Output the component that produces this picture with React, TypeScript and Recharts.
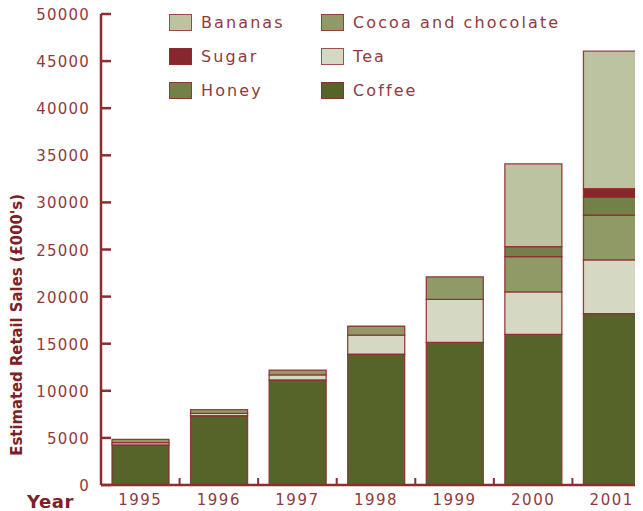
import React from "react";
import { BarChart, Bar, XAxis, YAxis } from "recharts";

const years = ["1995", "1996", "1997", "1998", "1999", "2000", "2001"];
const coffee = [4250, 7350, 11150, 13900, 15150, 16000, 18200];
const tea = [250, 250, 550, 2000, 4550, 4500, 5700];
const cocoa = [350, 400, 500, 950, 2400, 3750, 4750];
const honey = [0, 0, 0, 0, 0, 1050, 1900];
const sugar = [0, 0, 0, 0, 0, 0, 900];
const bananas = [0, 0, 0, 0, 0, 8800, 14600];
const yTicks = [0, 5000, 10000, 15000, 20000, 25000, 30000, 35000, 40000, 45000, 50000];

const data = years.map((year, i) => ({
  year,
  coffee: coffee[i],
  tea: tea[i],
  cocoa: cocoa[i],
  honey: honey[i],
  sugar: sugar[i],
  bananas: bananas[i],
}));

const series = [
  { key: "coffee", name: "Coffee", color: "#56642a" },
  { key: "tea", name: "Tea", color: "#d5d9c3" },
  { key: "cocoa", name: "Cocoa and chocolate", color: "#8f9a67" },
  { key: "honey", name: "Honey", color: "#738048" },
  { key: "sugar", name: "Sugar", color: "#86272b" },
  { key: "bananas", name: "Bananas", color: "#bcc3a0" },
];

// legend is two columns: left Bananas/Sugar/Honey, right Cocoa/Tea/Coffee
const legendCols = [["bananas", "sugar", "honey"], ["cocoa", "tea", "coffee"]];

const RED = "#8b2e32";
const TEXT = "#8f3b40";
const FONT = "'DejaVu Sans', Verdana, sans-serif";
const W = 643;
const H = 503;
const Y_W = 93;
const BAND = (W - Y_W) / years.length;

function YTick({ x, y, payload }: any) {
  return (
    <g>
      <line x1={x} x2={x + 10} y1={y} y2={y} stroke={RED} strokeWidth={2.5} />
      <text x={x - 11} y={y + 6} textAnchor="end" fill={TEXT} fontSize={15} letterSpacing={1.2} fontFamily={FONT}>
        {payload.value}
      </text>
    </g>
  );
}

function XTick({ x, y, payload, index }: any) {
  return (
    <g>
      {index > 0 && (
        <line x1={x - BAND / 2} x2={x - BAND / 2} y1={y} y2={y - 7} stroke={RED} strokeWidth={2} />
      )}
      <text x={x} y={y + 20} textAnchor="middle" fill={TEXT} fontSize={15} letterSpacing={1.5} fontFamily={FONT}>
        {payload.value}
      </text>
    </g>
  );
}

function ChartLegend() {
  const byKey: any = {};
  series.forEach((s) => (byKey[s.key] = s));
  return (
    <div style={{ position: "absolute", top: -3, left: 161, display: "flex", fontFamily: FONT }}>
      {legendCols.map((col, ci) => (
        <div key={ci} style={{ width: 152, flexShrink: 0 }}>
          {col.map((k) => (
            <div key={k} style={{ display: "flex", alignItems: "center", height: 34 }}>
              <span
                style={{
                  display: "inline-block",
                  flexShrink: 0,
                  width: 21,
                  height: 15,
                  background: byKey[k].color,
                  border: "1px solid rgba(139,46,50,0.8)",
                  marginRight: 9,
                }}
              />
              <span style={{ color: TEXT, fontSize: 16, letterSpacing: 2.1, whiteSpace: "nowrap" }}>
                {byKey[k].name}
              </span>
            </div>
          ))}
        </div>
      ))}
    </div>
  );
}

function YLabel({ viewBox }: any) {
  const cx = viewBox.x + 9;
  const cy = viewBox.y + viewBox.height * 0.66;
  return (
    <text
      x={cx}
      y={cy}
      transform={`rotate(-90 ${cx} ${cy})`}
      textAnchor="middle"
      dominantBaseline="central"
      fill="#7b2226"
      fontSize={16.5}
      fontWeight="bold"
      fontFamily="'DejaVu Sans Condensed', 'Liberation Sans Narrow', sans-serif"
    >
      Estimated Retail Sales (£000's)
    </text>
  );
}

export default function App() {
  return (
    <div style={{ position: "relative", width: 635, height: H, overflow: "hidden" }}>
      <BarChart width={W} height={H} data={data} margin={{ top: 6, right: 0, left: 0, bottom: 0 }}>
        <XAxis
          dataKey="year"
          height={26}
          tickSize={0}
          tickMargin={0}
          tick={<XTick />}
          axisLine={{ stroke: RED, strokeWidth: 2.5 }}
          interval={0}
        />
        <YAxis
          width={Y_W}
          domain={[0, 50000]}
          ticks={yTicks}
          tickSize={0}
          tickMargin={0}
          tick={<YTick />}
          axisLine={{ stroke: RED, strokeWidth: 2.5 }}
          interval={0}
          label={<YLabel />}
        />
        {series.map((s) => (
          <Bar
            key={s.key}
            dataKey={s.key}
            name={s.name}
            stackId="a"
            fill={s.color}
            stroke={RED}
            strokeOpacity={0.9}
            strokeWidth={1.3}
            barSize={57}
            isAnimationActive={false}
          />
        ))}
      </BarChart>
      <ChartLegend />
      <div
        style={{
          position: "absolute",
          left: 19,
          top: 483,
          fontFamily: FONT,
          fontWeight: "bold",
          fontSize: 18,
          letterSpacing: 0.6,
          color: "#7b2226",
        }}
      >
        Year
      </div>
    </div>
  );
}
